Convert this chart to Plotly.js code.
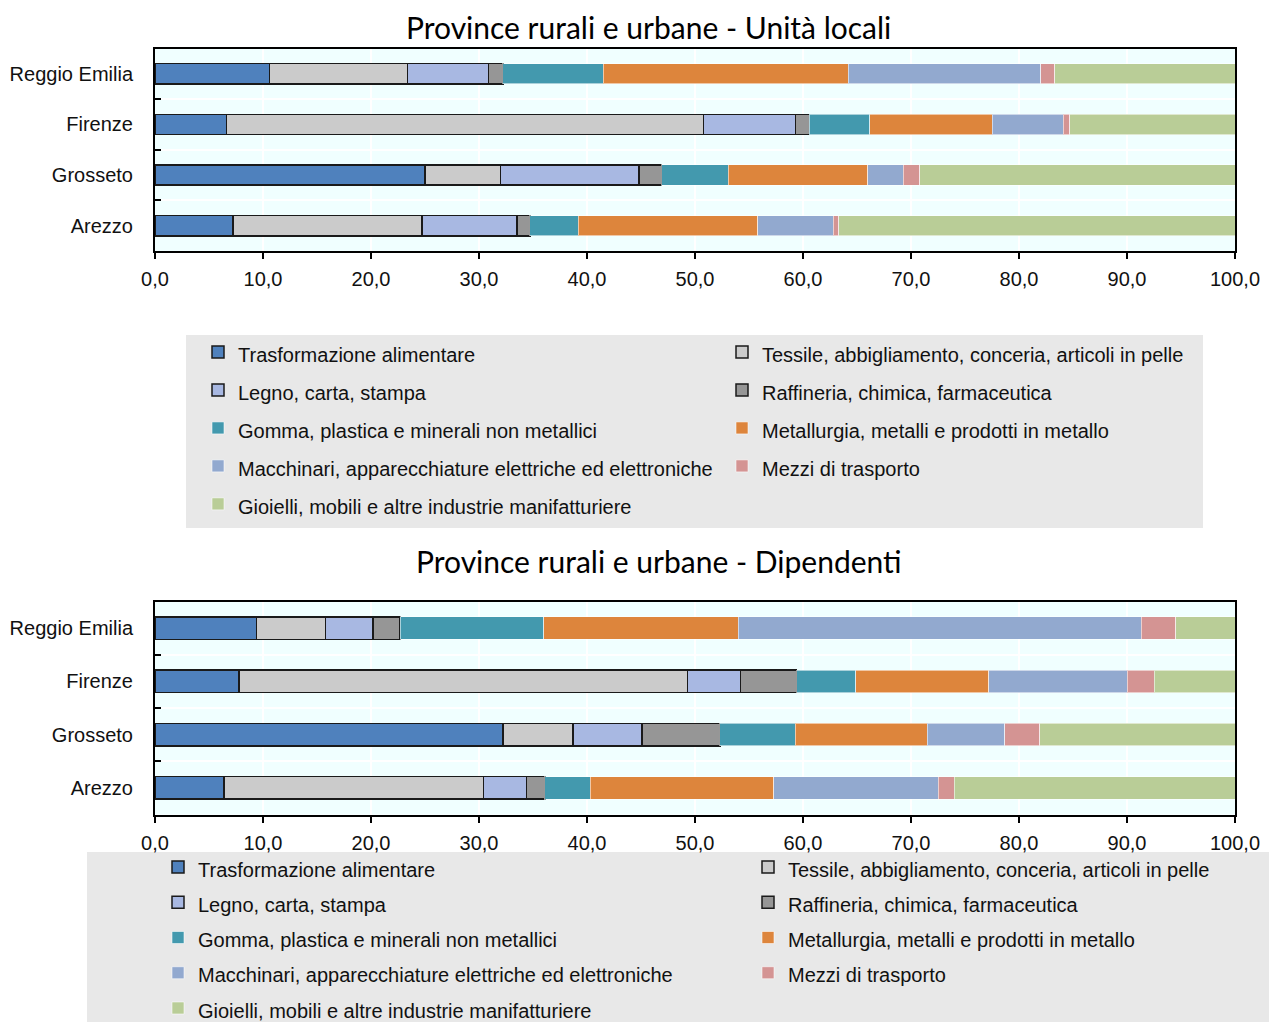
<!DOCTYPE html>
<html>
<head>
<meta charset="utf-8">
<script src="https://cdn.plot.ly/plotly-3.0.1.min.js"></script>
<style>
  html, body { margin: 0; padding: 0; background: #ffffff; }
  #chart { width: 1269px; height: 1022px; }
</style>
</head>
<body>
<div id="chart"></div>
<script>
// Provinces, top to bottom
const provinces = ['Reggio Emilia', 'Firenze', 'Grosseto', 'Arezzo'];

// Manufacturing sectors (stack order, left to right)
const sectors = [
  'Trasformazione alimentare',
  'Tessile, abbigliamento, conceria, articoli in pelle',
  'Legno, carta, stampa',
  'Raffineria, chimica, farmaceutica',
  'Gomma, plastica e minerali non metallici',
  'Metallurgia, metalli e prodotti in metallo',
  'Macchinari, apparecchiature elettriche ed elettroniche',
  'Mezzi di trasporto',
  'Gioielli, mobili e altre industrie manifatturiere'
];

// Share (%) of local units, one row per sector, columns follow `provinces`
const unitaLocali = [
  [10.6,  6.6, 25.0,  7.2],
  [12.8, 44.2,  7.0, 17.5],
  [ 7.5,  8.5, 12.8,  8.8],
  [ 1.3,  1.3,  2.1,  1.2],
  [ 9.3,  5.6,  6.2,  4.5],
  [22.7, 11.3, 12.9, 16.6],
  [17.8,  6.6,  3.3,  7.0],
  [ 1.3,  0.6,  1.5,  0.5],
  [16.7, 15.3, 29.2, 36.7]
];

// Share (%) of employees, one row per sector, columns follow `provinces`
const dipendenti = [
  [ 9.4,  7.8, 32.2,  6.4],
  [ 6.4, 41.5,  6.5, 24.0],
  [ 4.4,  4.9,  6.4,  4.0],
  [ 2.5,  5.2,  7.2,  1.7],
  [13.3,  5.5,  7.0,  4.2],
  [18.0, 12.3, 12.2, 17.0],
  [37.3, 12.8,  7.2, 15.2],
  [ 3.2,  2.5,  3.2,  1.5],
  [ 5.5,  7.5, 18.1, 26.0]
];

const xTicks = [0, 10, 20, 30, 40, 50, 60, 70, 80, 90, 100];

const chartTitles = [
  'Province rurali e urbane - Unità locali',
  'Province rurali e urbane - Dipendenti'
];

// Fill colours per sector
const sectorColors = [
  '#4f81bd', '#cbcbcb', '#a8b8e2', '#969696', '#4399ae',
  '#dd853c', '#92a9cf', '#d49493', '#b9cd97'
];
// the first four sectors carry a dark outline
const outlined = [true, true, true, true, false, false, false, false, false];

const W = 1269, H = 1022;
const px = v => v / W;
const py = v => 1 - v / H;

function makeTraces(values, axisSuffix, legendId, barWidth) {
  return sectors.map((name, i) => ({
    type: 'bar',
    orientation: 'h',
    name: '<span style="font-size:20px">' + name + '</span>',
    x: values[i],
    y: provinces,
    xaxis: 'x' + axisSuffix,
    yaxis: 'y' + axisSuffix,
    legend: legendId,
    width: barWidth,
    marker: {
      color: sectorColors[i],
      line: outlined[i]
        ? { color: '#1a1a1a', width: 1.5 }
        : { color: 'rgba(255,255,255,0.55)', width: 1 }
    },
    hoverinfo: 'x+y+name'
  }));
}

const traces = [
  ...makeTraces(unitaLocali, '', 'legend', 0.4),
  ...makeTraces(dipendenti, '2', 'legend2', 0.42)
];

const axisFont = { family: 'Liberation Sans, Arial, sans-serif', size: 20, color: '#111' };

function xAxis(anchor) {
  return {
    domain: [px(155), px(1235)],
    anchor: anchor,
    range: [0, 100],
    tickvals: xTicks,
    tickformat: '.1f',
    ticks: 'outside',
    ticklen: 6,
    tickwidth: 2,
    tickcolor: '#000',
    ticklabelstandoff: 3,
    showline: true,
    linecolor: '#000',
    linewidth: 2,
    mirror: true,
    showgrid: true,
    gridcolor: '#ffffff',
    gridwidth: 2,
    zeroline: false,
    tickfont: axisFont,
    fixedrange: true
  };
}

function yAxis(domain, anchor) {
  return {
    domain: domain,
    anchor: anchor,
    type: 'category',
    categoryorder: 'array',
    categoryarray: provinces,
    autorange: 'reversed',
    tickson: 'boundaries',
    ticks: 'inside',
    ticklen: 6,
    tickwidth: 2,
    tickcolor: '#000',
    ticklabelstandoff: 16,
    showline: true,
    linecolor: '#000',
    linewidth: 2,
    mirror: true,
    showgrid: true,
    gridcolor: '#ffffff',
    gridwidth: 2,
    zeroline: false,
    tickfont: axisFont,
    fixedrange: true
  };
}

const legendBase = {
  orientation: 'h',
  traceorder: 'normal',
  xanchor: 'left',
  yanchor: 'top',
  bgcolor: 'rgba(0,0,0,0)',
  borderwidth: 0,
  entrywidthmode: 'pixels',
  itemclick: false,
  itemdoubleclick: false
};

const layout = {
  width: W,
  height: H,
  margin: { l: 0, r: 0, t: 0, b: 0, autoexpand: false },
  paper_bgcolor: '#ffffff',
  plot_bgcolor: '#f0ffff',
  separators: ',.',
  barmode: 'stack',
  showlegend: true,
  font: { family: 'Liberation Sans, Arial, sans-serif', color: '#111' },
  xaxis: xAxis('y'),
  yaxis: yAxis([py(251), py(48.5)], 'x'),
  xaxis2: xAxis('y2'),
  yaxis2: yAxis([py(814.5), py(601.5)], 'x2'),
  legend: Object.assign({}, legendBase, {
    x: px(198), y: py(328),
    entrywidth: 479,
    font: { family: 'Liberation Sans, Arial, sans-serif', size: 26.9, color: '#111' }
  }),
  legend2: Object.assign({}, legendBase, {
    x: px(158), y: py(844.4),
    entrywidth: 545,
    font: { family: 'Liberation Sans, Arial, sans-serif', size: 24.8, color: '#111' }
  }),
  shapes: [
    // legend panels
    { type: 'rect', xref: 'paper', yref: 'paper', layer: 'below',
      x0: px(186), x1: px(1203), y0: py(528), y1: py(335),
      fillcolor: '#e8e8e8', line: { width: 0 } },
    { type: 'rect', xref: 'paper', yref: 'paper', layer: 'below',
      x0: px(87), x1: px(1269), y0: py(1022), y1: py(852),
      fillcolor: '#e8e8e8', line: { width: 0 } }
  ],
  annotations: [
    { text: chartTitles[0], xref: 'paper', yref: 'paper', x: px(648), y: py(26.5),
      xanchor: 'center', yanchor: 'middle', showarrow: false,
      font: { family: 'Lato, sans-serif', size: 30, color: '#000' } },
    { text: chartTitles[1], xref: 'paper', yref: 'paper', x: px(659), y: py(560.5),
      xanchor: 'center', yanchor: 'middle', showarrow: false,
      font: { family: 'Lato, sans-serif', size: 30, color: '#000' } }
  ]
};

Plotly.newPlot('chart', traces, layout, { displayModeBar: false, staticPlot: true });
</script>
</body>
</html>
